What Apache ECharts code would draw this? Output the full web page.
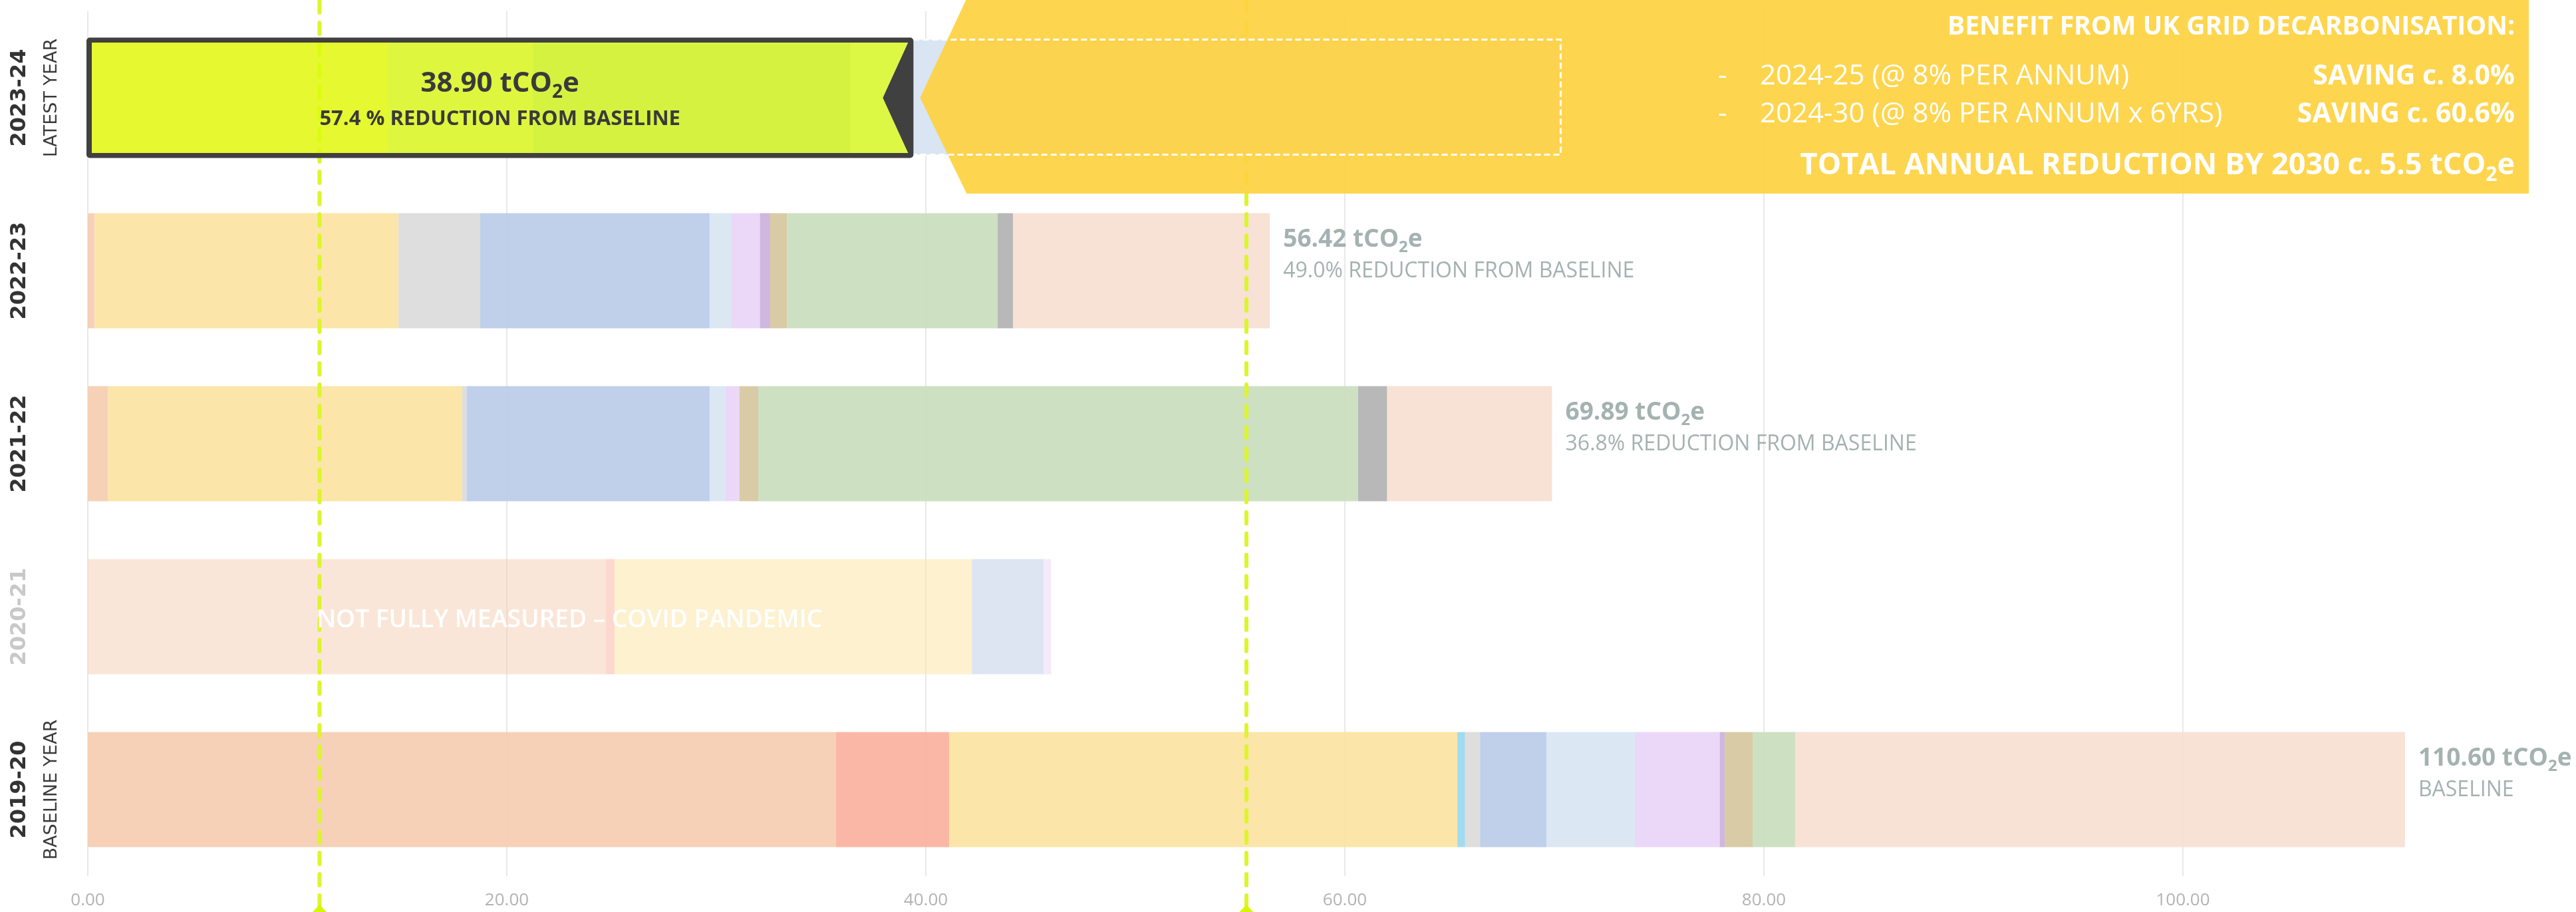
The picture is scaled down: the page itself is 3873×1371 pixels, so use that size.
<!DOCTYPE html>
<html>
<head>
<meta charset="utf-8">
<title>Annual emissions by year (tCO2e)</title>
<script src="https://cdn.jsdelivr.net/npm/echarts@6/dist/echarts.min.js"></script>
<style>
  html, body { margin: 0; padding: 0; background: #ffffff; }
  #chart { width: 3873px; height: 1371px; }
</style>
</head>
<body>
<div id="chart"></div>
<script>
// ---- data -------------------------------------------------------------
// reporting years, bottom to top
const years = ['2019-20', '2020-21', '2021-22', '2022-23', '2023-24'];
const yearNotes = ['BASELINE YEAR', '', '', '', 'LATEST YEAR'];
const reductionNotes = ['BASELINE', '', '36.8% REDUCTION FROM BASELINE',
                        '49.0% REDUCTION FROM BASELINE', '57.4 % REDUCTION FROM BASELINE'];
const latestYear = '2023-24';
const partialYear = '2020-21';
const partialNote = 'NOT FULLY MEASURED \u2013 COVID PANDEMIC';

// emission sources in stacking order, tCO2e per year (same order as years)
const srcPeach      = [35.71, 24.73,  0.97,  0.33,  0.19];
const srcSalmon     = [ 5.40,  0.41,  0.00,  0.00,  0.00];
const srcYellow     = [24.26, 17.06, 16.90, 14.50, 14.10];
const srcCyan       = [ 0.37,  0.00,  0.00,  0.00,  0.00];
const srcGrey       = [ 0.71,  0.00,  0.21,  3.90,  6.95];
const srcBlue       = [ 3.17,  3.43, 11.60, 10.95, 15.14];
const srcPaleBlue   = [ 4.22,  0.00,  0.74,  1.05,  2.52];
const srcLavender   = [ 4.05,  0.35,  0.68,  1.35,  0.00];
const srcPurple     = [ 0.24,  0.00,  0.00,  0.49,  0.00];
const srcTan        = [ 1.33,  0.00,  0.90,  0.80,  0.00];
const srcGreen      = [ 2.03,  0.00, 28.63, 10.06,  0.00];
const srcDarkGrey   = [ 0.00,  0.00,  1.39,  0.73,  0.00];
const srcPalePeach  = [29.11,  0.00,  7.87, 12.26,  0.00];

// dashed reference lines (tCO2e)
const targetLines = [11.06, 55.30];

// x axis ticks
const tickStep = 20;
const axisMax = 118;

// dashed frame behind the grid-decarbonisation panel ends here (tCO2e)
const benefitFrameEnd = 70.3;

// grid-decarbonisation panel text
const benefitTitle = 'BENEFIT FROM UK GRID DECARBONISATION:';
const benefitRows = ['2024-25 (@ 8% PER ANNUM)', '2024-30 (@ 8% PER ANNUM x 6YRS)'];
const benefitSavings = ['SAVING c. 8.0%', 'SAVING c. 60.6%'];
const benefitTotalPrefix = 'TOTAL ANNUAL REDUCTION BY 2030 c. 5.5 ';

// ---- styling ----------------------------------------------------------
const sources = [srcPeach, srcSalmon, srcYellow, srcCyan, srcGrey, srcBlue, srcPaleBlue,
                 srcLavender, srcPurple, srcTan, srcGreen, srcDarkGrey, srcPalePeach];
const sourceColors = ['#F5CDB2', '#FBB29E', '#FCE3A1', '#9AD8EE', '#DCDCDC', '#BBCBE8', '#D9E5F3',
                      '#E9D5F8', '#CBB2DD', '#D6C79E', '#CADEBD', '#B3B3B3', '#F8E0D2'];
const FONT = '"Open Sans", "DejaVu Sans", sans-serif';
const labelGrey = '#A4B2B0';
const limeLine = '#DCF52C';

const totals = years.map((_, i) => sources.reduce((s, arr) => s + arr[i], 0));

// rich text for "<prefix>tCO2e" with a lowered "2"
function co2Text(prefix, fontSize, weight, color) {
  const m = { fontSize, fontWeight: weight, fontFamily: FONT, fill: color,
              lineHeight: Math.round(fontSize * 1.3) };
  const s = { fontSize: Math.round(fontSize * 0.66), fontWeight: weight, fontFamily: FONT, fill: color,
              lineHeight: Math.round(fontSize * 0.62), verticalAlign: 'bottom' };
  return { text: '{m|' + prefix + 'tCO}{s|2}{m|e}', rich: { m, s }, fill: color };
}

function plainText(text, x, y, fontSize, weight, color, align) {
  return {
    type: 'text', x, y, silent: true,
    style: { text, fontSize, fontWeight: weight, fontFamily: FONT, fill: color,
             align: align || 'left', verticalAlign: 'middle' }
  };
}

// highlighted latest year with the grid-decarbonisation panel
function renderLatest(api, i, x0, x1, yc) {
  const W = api.getWidth();
  const T = yc - 90.5, B = yc + 90.5;
  const L = x0 - 2, R = x1 + 16;
  const iT = yc - 83, iB = yc + 83, iL = x0 + 6, iR = x1 + 8, notch = x1 - 30;
  const frameR = api.coord([benefitFrameEnd, i])[0];
  const fT = yc - 87.5, fB = yc + 85.5;
  const cT = yc - 147, cB = yc + 144, cR = W - 71;
  const textR = cR - 21;
  const dark = '#404040';

  const children = [
    // pale blue band under the panel
    { type: 'rect', shape: { x: x1, y: fT, width: frameR - x1, height: fB - fT },
      style: { fill: '#D9E5F3' } },
    // callout panel pointing at the latest bar
    { type: 'polygon',
      shape: { points: [[x1 + 26, yc], [x1 + 95, cT], [cR, cT], [cR, cB], [x1 + 96, cB]] },
      style: { fill: 'rgba(254,210,65,0.93)' } },
    // dashed frame
    { type: 'polyline', shape: { points: [[R, fT], [frameR, fT], [frameR, fB], [R, fB]] },
      style: { stroke: '#ffffff', lineWidth: 3, lineDash: [9, 5], fill: null } },
    // lime banner over the bar
    { type: 'polygon', shape: { points: [[iL, iT], [iR, iT], [notch, yc], [iR, iB], [iL, iB]] },
      style: { fill: 'rgba(222,255,0,0.72)' } },
    // dark banner border
    { type: 'rect', shape: { x: L, y: T, width: R - L, height: iT - T, r: [5, 5, 0, 0] }, style: { fill: dark } },
    { type: 'rect', shape: { x: L, y: iB, width: R - L, height: B - iB, r: [0, 0, 5, 5] }, style: { fill: dark } },
    { type: 'rect', shape: { x: L, y: iT, width: iL - L, height: iB - iT }, style: { fill: dark } },
    { type: 'polygon', shape: { points: [[iR, iT], [R, iT], [R, iB], [iR, iB], [notch, yc]] },
      style: { fill: dark } },
    // value inside the banner
    { type: 'text', x: (L + R) / 2, y: yc - 21, silent: true,
      style: Object.assign(co2Text(totals[i].toFixed(2) + ' ', 42, 'bold', '#3A3A3A'),
                           { align: 'center', verticalAlign: 'middle', fontFamily: FONT }) },
    plainText(reductionNotes[i], (L + R) / 2, yc + 32, 31, 'bold', '#3A3A3A', 'center'),
    // panel text
    plainText(benefitTitle, textR, cT + 41, 39, 'bold', '#ffffff', 'right'),
    plainText('-', textR - 1198, cT + 115, 42, 'normal', '#ffffff', 'left'),
    plainText(benefitRows[0], textR - 1135, cT + 115, 42, 'normal', '#ffffff', 'left'),
    plainText(benefitSavings[0], textR, cT + 115, 41, 'bold', '#ffffff', 'right'),
    plainText('-', textR - 1198, cT + 172, 42, 'normal', '#ffffff', 'left'),
    plainText(benefitRows[1], textR - 1135, cT + 172, 42, 'normal', '#ffffff', 'left'),
    plainText(benefitSavings[1], textR, cT + 172, 41, 'bold', '#ffffff', 'right'),
    { type: 'text', x: textR, y: cT + 249, silent: true,
      style: Object.assign(co2Text(benefitTotalPrefix, 45, 'bold', '#ffffff'),
                           { align: 'right', verticalAlign: 'middle', fontFamily: FONT }) }
  ];
  return { type: 'group', children };
}

function renderAnnotation(params, api) {
  const i = params.dataIndex;
  const total = api.value(0);
  const [x0, yc] = api.coord([0, i]);
  const x1 = api.coord([total, i])[0];
  if (years[i] === latestYear) return renderLatest(api, i, x0, x1, yc);
  if (years[i] === partialYear) {
    return plainText(partialNote, (x0 + x1) / 2, yc + 5, 37, 600, '#ffffff', 'center');
  }
  return {
    type: 'group',
    children: [
      { type: 'text', x: x1 + 20, y: yc - 47, silent: true,
        style: Object.assign(co2Text(total.toFixed(2) + ' ', 37, 'bold', labelGrey),
                             { align: 'left', verticalAlign: 'middle', fontFamily: FONT }) },
      plainText(reductionNotes[i], x1 + 20, yc + 1, 32, 'normal', labelGrey, 'left')
    ]
  };
}

function renderTargetLine(params, api) {
  const x = api.coord([api.value(0), 0])[0];
  const H = api.getHeight();
  return {
    type: 'group',
    children: [
      { type: 'line', shape: { x1: x, y1: 2, x2: x, y2: H - 8 },
        style: { stroke: limeLine, lineWidth: 6, lineDash: [17, 15], lineCap: 'round' } },
      { type: 'polygon', shape: { points: [[x, H - 11], [x - 22, H + 12], [x + 22, H + 12]] },
        style: { fill: '#D6F700' } }
    ]
  };
}

const barSeries = sources.map((vals, k) => ({
  type: 'bar',
  stack: 'total',
  barWidth: '66.5%',
  silent: true,
  z: 2,
  itemStyle: { color: sourceColors[k], opacity: 0.93 },
  data: vals.map((v, i) => years[i] === partialYear ? { value: v, itemStyle: { opacity: 0.5 } } : v)
}));

const option = {
  animation: false,
  backgroundColor: '#ffffff',
  grid: { left: 132, right: 3873 - 132 - axisMax * 31.5, top: 17, bottom: 54, outerBoundsMode: 'none' },
  xAxis: {
    type: 'value', min: 0, max: axisMax, interval: tickStep,
    axisLine: { show: false }, axisTick: { show: false },
    splitLine: { show: true, showMaxLine: false, lineStyle: { color: '#E8E8E8', width: 2 } },
    axisLabel: {
      showMaxLabel: false, margin: 24,
      formatter: v => v.toFixed(2),
      color: '#B3B3B3', fontSize: 26, fontFamily: FONT
    }
  },
  yAxis: {
    type: 'category', data: years,
    axisLine: { show: false }, axisTick: { show: false }, splitLine: { show: false },
    axisLabel: {
      interval: 0, rotate: 90, margin: 30,
      formatter: (v, i) => '{' + (v === partialYear ? 'yf' : 'y') + '|' + v + '}\n{s|' + (yearNotes[i] || ' ') + '}',
      rich: {
        y:  { fontFamily: '"DejaVu Sans", sans-serif', fontWeight: 'bold', fontSize: 32, color: '#333333', lineHeight: 48 },
        yf: { fontFamily: '"DejaVu Sans", sans-serif', fontWeight: 'bold', fontSize: 32, color: '#C8C8C8', lineHeight: 48 },
        s:  { fontFamily: '"DejaVu Sans", sans-serif', fontWeight: 'normal', fontSize: 27, color: '#3A3A3A', lineHeight: 48 }
      }
    }
  },
  series: barSeries.concat([
    {
      type: 'custom', name: 'targets', z: 5, silent: true, clip: false,
      data: targetLines.map(v => [v]),
      encode: { x: 0 },
      renderItem: renderTargetLine
    },
    {
      type: 'custom', name: 'annotations', z: 6, silent: true, clip: false,
      data: years.map((_, i) => [totals[i], i]),
      encode: { x: 0, y: 1 },
      renderItem: renderAnnotation
    }
  ])
};

const chart = echarts.init(document.getElementById('chart'));
chart.setOption(option);
</script>
</body>
</html>
